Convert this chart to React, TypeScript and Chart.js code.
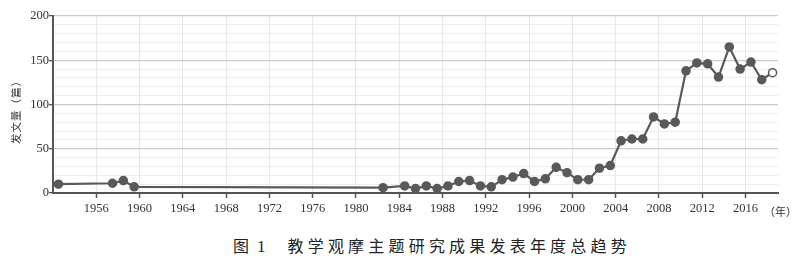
import React, { useEffect, useRef } from "react";
import { Chart, registerables } from "chart.js";

Chart.register(...registerables);

// Publication years and article counts
const years = [
  1952, 1957, 1958, 1959, 1982, 1984, 1985, 1986, 1987, 1988, 1989, 1990, 1991,
  1992, 1993, 1994, 1995, 1996, 1997, 1998, 1999, 2000, 2001, 2002, 2003, 2004,
  2005, 2006, 2007, 2008, 2009, 2010, 2011, 2012, 2013, 2014, 2015, 2016, 2017,
  2018,
];
const counts = [
  10, 11, 14, 7, 6, 8, 5, 8, 5, 8, 13, 14, 8, 7, 15, 18, 22, 13, 16, 29, 23, 15,
  15, 28, 31, 59, 61, 61, 86, 78, 80, 138, 147, 146, 131, 165, 140, 148, 128, 136,
];
const projectedYears = [2018];
const xTickYears = [
  1956, 1960, 1964, 1968, 1972, 1976, 1980, 1984, 1988, 1992, 1996, 2000, 2004,
  2008, 2012, 2016,
];
const yMajorTicks = [0, 50, 100, 150, 200];
const yTitle = "发文量（篇）";
const xUnit = "（年）";
const captionLabel = "图";
const captionNumber = "1";
const captionText = "教学观摩主题研究成果发表年度总趋势";

const X_MIN = 1952;
const X_MAX = 2019;
const Y_MIN = 0;
const Y_MAX = 200;
const Y_MINOR_STEP = 10;
const MID_YEAR = 0.5;

const LINE = "#595959";
const SERIF = "Liberation Serif, DejaVu Serif, serif";
const CJK = "Noto Sans CJK SC, sans-serif";

const textPlugin = {
  id: "extraText",
  afterDraw(chart: any) {
    const xs = chart.scales.x;
    const ca = chart.chartArea;
    const ctx = chart.ctx;
    ctx.save();
    ctx.font = `11px ${CJK}`;
    ctx.fillStyle = "#333";
    ctx.textAlign = "center";
    ctx.textBaseline = "middle";
    const last = xTickYears[xTickYears.length - 1];
    ctx.fillText(xUnit, xs.getPixelForValue(last) + 35, xs.top + 19);
    // y-axis title, rotated, with letter spacing
    ctx.translate(16, (ca.top + ca.bottom) / 2 + 5);
    ctx.rotate(-Math.PI / 2);
    (ctx as any).letterSpacing = "1px";
    ctx.font = `10.5px ${CJK}`;
    ctx.fillText(yTitle, 0, 0);
    ctx.restore();
  },
};

export default function App() {
  const ref = useRef<HTMLCanvasElement | null>(null);

  useEffect(() => {
    if (!ref.current) return;
    const data = years.map((y, i) => ({ x: y + MID_YEAR, y: counts[i] }));
    const isProj = years.map((y) => projectedYears.includes(y));
    const chart = new Chart(ref.current, {
      type: "line",
      data: {
        datasets: [
          {
            data,
            borderColor: LINE,
            borderWidth: 2.2,
            pointRadius: 4,
            pointBorderWidth: 1.5,
            pointBorderColor: LINE,
            pointBackgroundColor: isProj.map((p) => (p ? "#ffffff" : LINE)),
            tension: 0,
          },
        ],
      },
      options: {
        animation: false,
        responsive: false,
        maintainAspectRatio: false,
        layout: { padding: { top: 16, right: 22, left: 0, bottom: 0 } },
        plugins: {
          legend: { display: false },
          tooltip: { enabled: false },
        },
        scales: {
          x: {
            type: "linear",
            min: X_MIN,
            max: X_MAX,
            afterBuildTicks: (s: any) => {
              s.ticks = xTickYears.map((v) => ({ value: v }));
            },
            afterFit: (s: any) => {
              s.height = 35;
            },
            grid: {
              color: "#e8e8e8",
              lineWidth: 1,
              drawTicks: true,
              tickLength: 5,
              tickColor: "#555",
              tickWidth: 1.5,
            },
            border: { color: "#555", width: 2 },
            ticks: {
              autoSkip: false,
              maxRotation: 0,
              padding: 3,
              color: "#333",
              font: { family: SERIF, size: 12.5 },
              callback: (v: any) => String(v),
            },
          },
          y: {
            min: Y_MIN,
            max: Y_MAX,
            afterBuildTicks: (s: any) => {
              const t = [];
              for (let v = Y_MIN; v <= Y_MAX; v += Y_MINOR_STEP) t.push({ value: v });
              s.ticks = t;
            },
            afterFit: (s: any) => {
              s.width = 53;
            },
            grid: {
              color: (c: any) =>
                yMajorTicks.includes(c.tick?.value) ? "#cccccc" : "#eeeeee",
              lineWidth: (c: any) => (yMajorTicks.includes(c.tick?.value) ? 1.3 : 1),
              tickColor: (c: any) =>
                yMajorTicks.includes(c.tick?.value) ? "#555" : "rgba(0,0,0,0)",
              tickLength: 4,
            },
            border: { color: "#555", width: 2 },
            ticks: {
              autoSkip: false,
              padding: 0,
              color: "#333",
              font: { family: SERIF, size: 12.5 },
              callback: (v: any) => (yMajorTicks.includes(Number(v)) ? String(v) : ""),
            },
          },
        },
      },
      plugins: [textPlugin],
    } as any);
    return () => chart.destroy();
  }, []);

  return (
    <div style={{ position: "fixed", left: 0, top: 0, width: 800, height: 259, background: "#fff" }}>
      <canvas ref={ref} width={800} height={228} style={{ width: 800, height: 228, display: "block" }} />
      <div
        style={{
          position: "absolute",
          left: 233,
          top: 237,
          fontFamily: CJK,
          fontSize: 16,
          lineHeight: "16px",
          color: "#222",
          whiteSpace: "pre",
        }}
      >
        <span>{captionLabel}</span>
        <span style={{ fontFamily: SERIF, fontSize: 17, marginLeft: 8 }}>{captionNumber}</span>
        <span style={{ letterSpacing: "4.2px", marginLeft: 22 }}>{captionText}</span>
      </div>
    </div>
  );
}
